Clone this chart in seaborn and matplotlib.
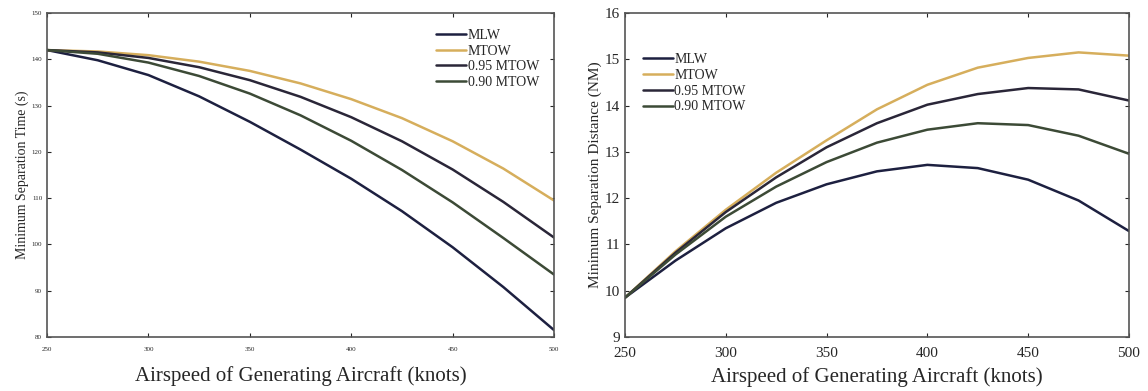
import numpy as np
import pandas as pd
import seaborn as sns
import matplotlib.pyplot as plt

# airspeed of generating aircraft (knots)
airspeed = [250, 275, 300, 325, 350, 375, 400, 425, 450, 475, 500]
series_names = ['MLW', 'MTOW', '0.95 MTOW', '0.90 MTOW']

# minimum separation time (s)
time_mlw = [142.0, 139.8, 136.6, 132.0, 126.5, 120.5, 114.2, 107.2, 99.4, 90.8, 81.5]
time_mtow = [142.0, 141.7, 140.9, 139.5, 137.5, 134.8, 131.4, 127.3, 122.3, 116.4, 109.5]
time_095 = [142.0, 141.5, 140.3, 138.3, 135.5, 131.9, 127.5, 122.3, 116.2, 109.2, 101.5]
time_090 = [142.0, 141.2, 139.3, 136.4, 132.6, 127.9, 122.4, 116.1, 109.1, 101.4, 93.5]

# minimum separation distance (NM)
dist_mlw = [9.85, 10.65, 11.35, 11.90, 12.30, 12.58, 12.72, 12.65, 12.40, 11.95, 11.29]
dist_mtow = [9.85, 10.85, 11.75, 12.55, 13.25, 13.92, 14.45, 14.82, 15.03, 15.15, 15.08]
dist_095 = [9.85, 10.82, 11.70, 12.45, 13.10, 13.62, 14.02, 14.25, 14.38, 14.35, 14.11]
dist_090 = [9.85, 10.78, 11.60, 12.25, 12.78, 13.20, 13.48, 13.62, 13.58, 13.35, 12.96]

colors = {'MLW': '#1d2040', 'MTOW': '#d6ae5c', '0.95 MTOW': '#2a2638', '0.90 MTOW': '#3c4a36'}


def long_form(cols):
    rows = []
    for name, vals in zip(series_names, cols):
        for x, v in zip(airspeed, vals):
            rows.append({'airspeed': x, 'value': v, 'case': name})
    return pd.DataFrame(rows)


df_time = long_form([time_mlw, time_mtow, time_095, time_090])
df_dist = long_form([dist_mlw, dist_mtow, dist_095, dist_090])

sns.set_style('ticks')
plt.rcParams['font.family'] = ['Liberation Serif', 'DejaVu Serif']

fig = plt.figure(figsize=(11.48, 3.91), dpi=100)
ax1 = fig.add_axes([0.041, 0.138, 0.4416, 0.8286])
ax2 = fig.add_axes([0.5444, 0.138, 0.439, 0.8286])

sns.lineplot(data=df_time, x='airspeed', y='value', hue='case', palette=colors,
             linewidth=1.8, ax=ax1)
sns.lineplot(data=df_dist, x='airspeed', y='value', hue='case', palette=colors,
             linewidth=1.8, ax=ax2)

# left panel
ax1.set_xlim(250, 500)
ax1.set_ylim(80, 150)
ax1.set_xticks([250, 300, 350, 400, 450, 500])
ax1.set_yticks(np.arange(80, 151, 10))
ax1.tick_params(labelsize=5, direction='in', top=True, right=True, length=3)
ax1.tick_params(axis='x', pad=7)
ax1.set_xlabel('Airspeed of Generating Aircraft (knots)', fontsize=15, labelpad=10)
ax1.set_ylabel('Minimum Separation Time (s)', fontsize=10, labelpad=2)
ax1.legend(loc='upper right', frameon=False, fontsize=10, handlelength=2.2,
           handletextpad=0.1, labelspacing=0.2, bbox_to_anchor=(0.995, 0.99))

# right panel
ax2.set_xlim(250, 500)
ax2.set_ylim(9, 16)
ax2.set_xticks([250, 300, 350, 400, 450, 500])
ax2.set_yticks(range(9, 17))
ax2.tick_params(labelsize=11, direction='in', top=True, right=True, length=3)
ax2.tick_params(axis='x', pad=7)
ax2.set_xlabel('Airspeed of Generating Aircraft (knots)', fontsize=15, labelpad=5)
ax2.set_ylabel('Minimum Separation Distance (NM)', fontsize=11, labelpad=2)
ax2.legend(loc='upper left', frameon=False, fontsize=10, handlelength=2.2,
           handletextpad=0.1, labelspacing=0.2, bbox_to_anchor=(0.01, 0.915))

for ax in (ax1, ax2):
    for sp in ax.spines.values():
        sp.set_color('#555555')
        sp.set_linewidth(1.2)

fig.savefig('out.png', dpi=100)
